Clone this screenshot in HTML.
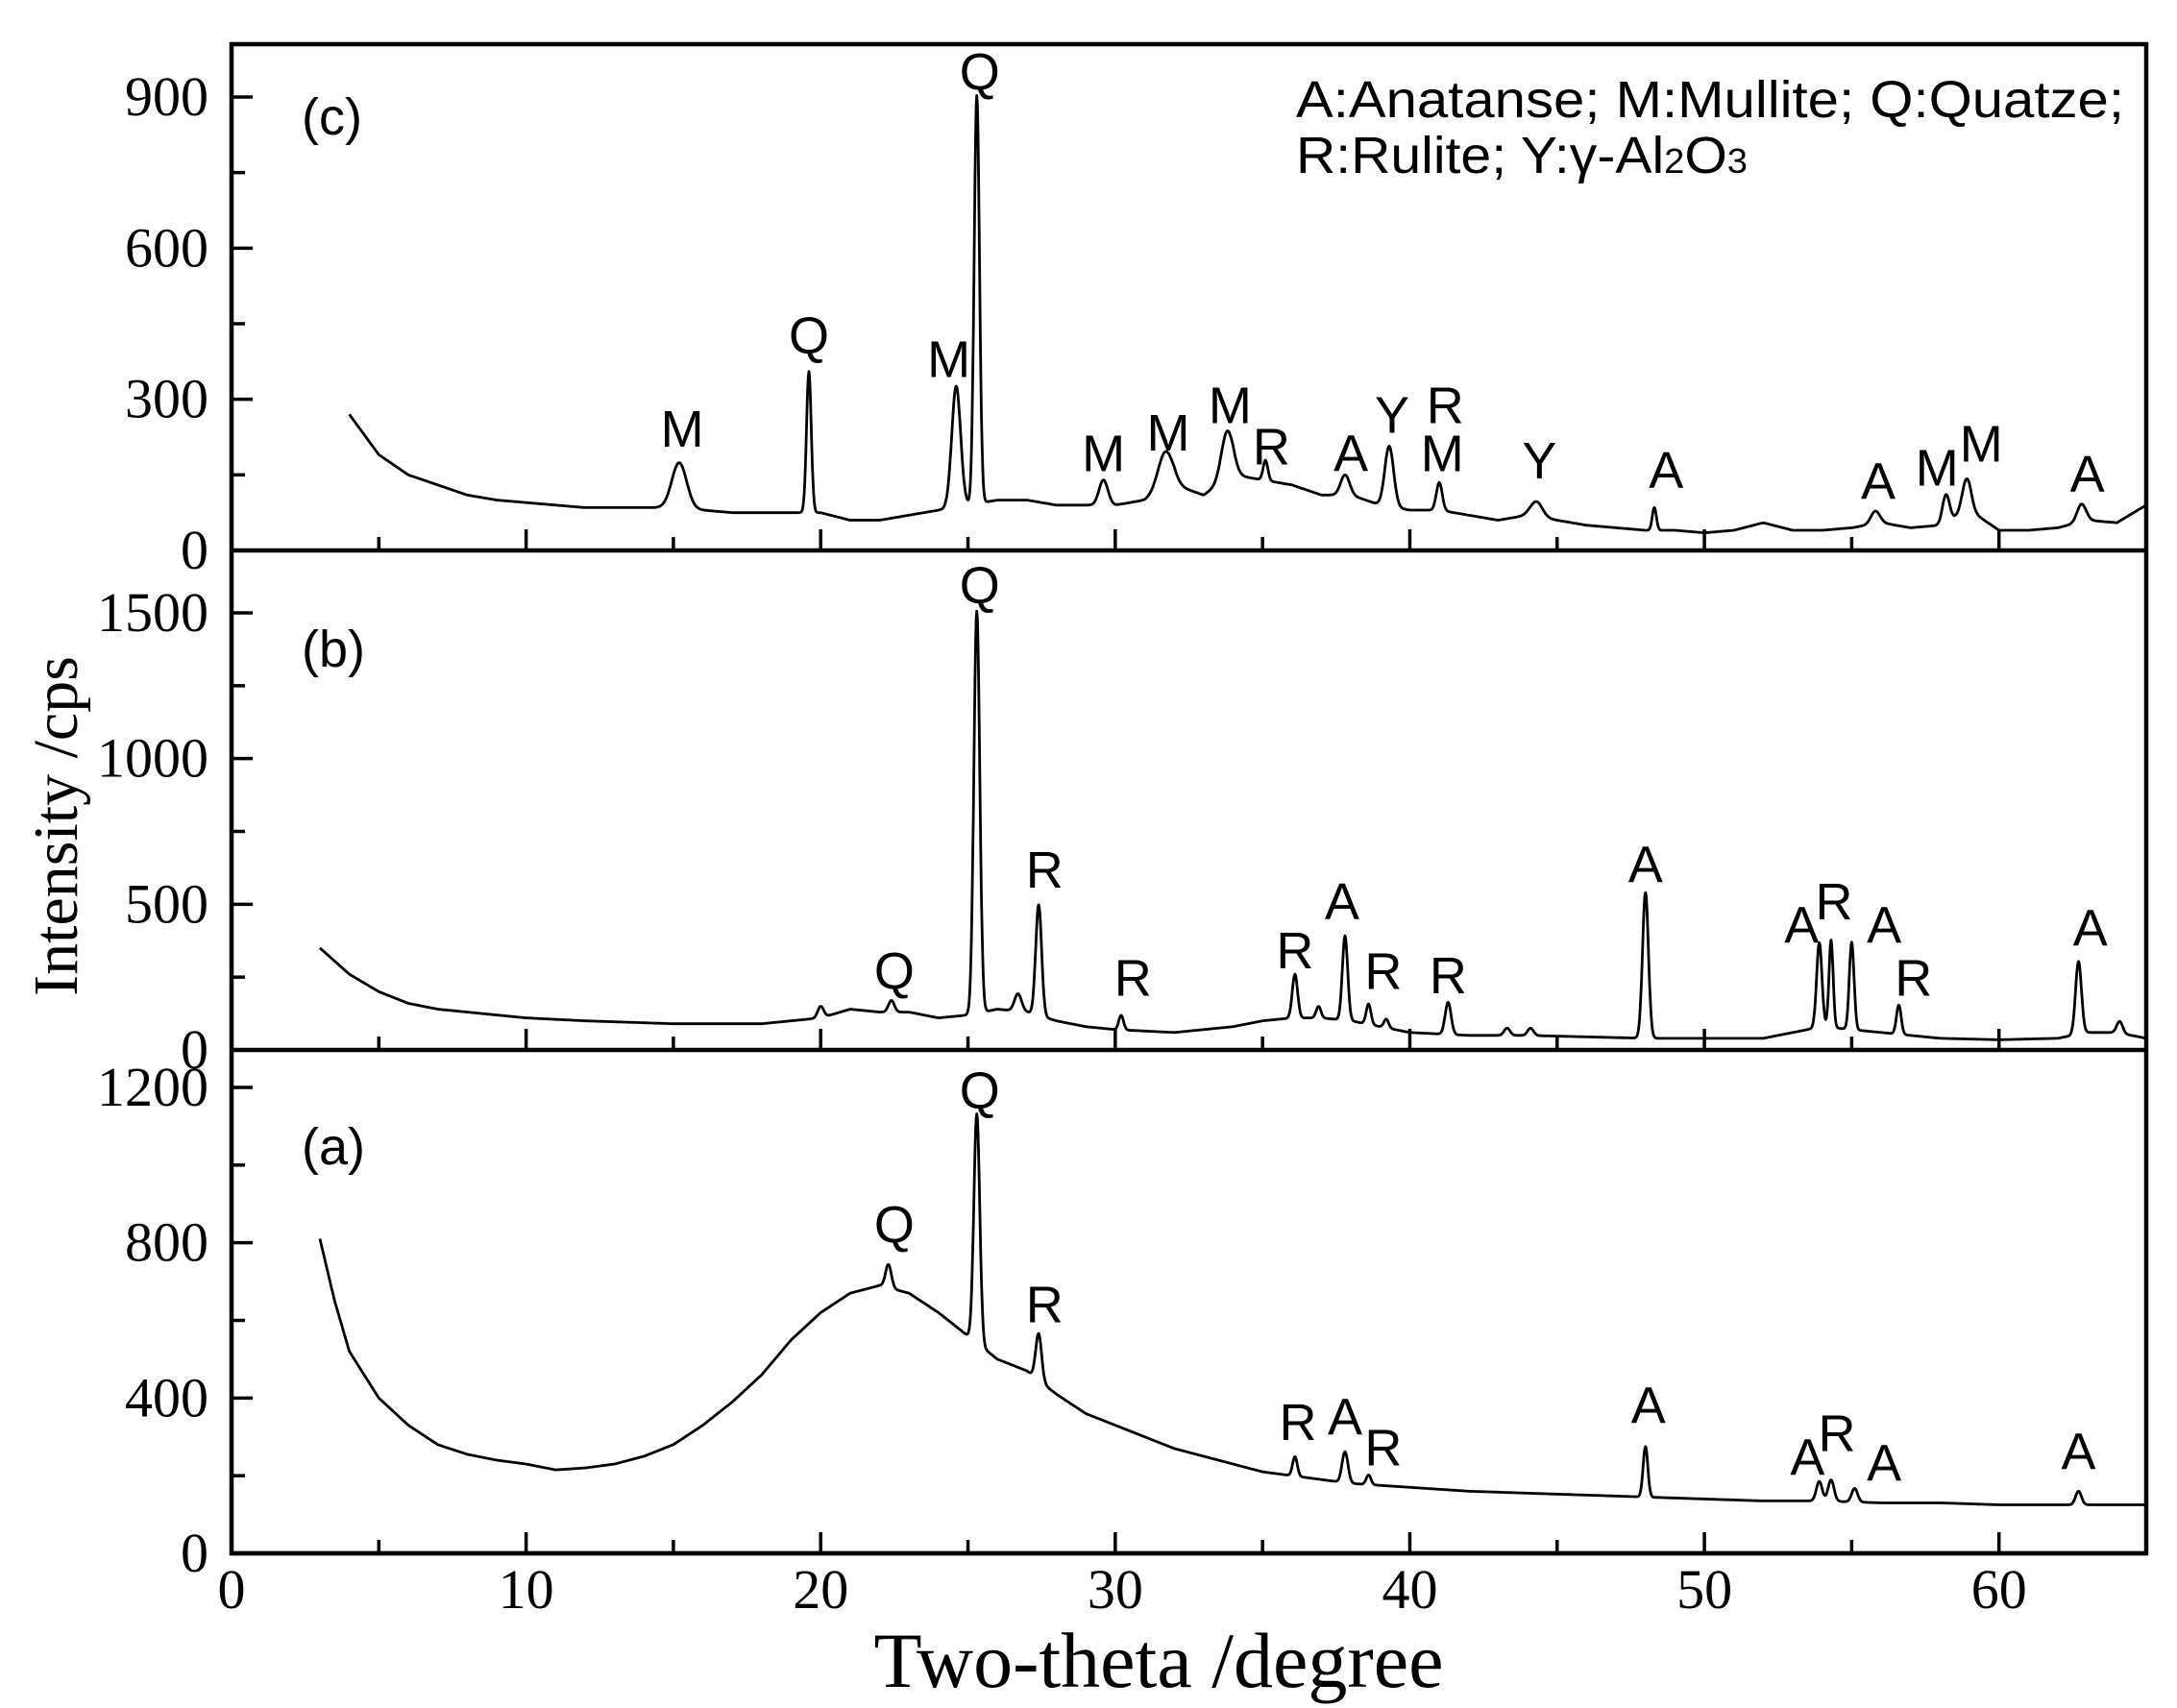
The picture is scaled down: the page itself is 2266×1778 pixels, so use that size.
<!DOCTYPE html>
<html><head><meta charset="utf-8"><style>
html,body{margin:0;padding:0;background:#fff}
svg{display:block}
text{fill:#000}
.tk{font-family:"Liberation Serif",serif;font-size:58px}
.pk{font-family:"Liberation Sans",sans-serif;font-size:54px}
</style></head><body>
<svg id="chart" width="2266" height="1778" viewBox="0 0 2266 1778" xmlns="http://www.w3.org/2000/svg"></svg>
<script>
// ---- data ----
const xTicks = [0,10,20,30,40,50,60];
const cTicks = [0,300,600,900];
const bTicks = [0,500,1000,1500];
const aTicks = [0,400,800,1200];
// baselines: [two-theta, intensity]
const cBaseX = [4,5,6,7,8,9,10,11,12,13,14,15,16,17,18,19,20,21,22,23,24,25,26,27,28,29,30,31,32,33,34,35,36,37,38,39,40,41,42,43,44,45,46,47,48,49,50,51,52,53,54,55,56,57,58,59,60,61,62,63,64,65];
const cBaseY = [270,190,150,130,110,100,95,90,85,85,85,85,80,75,75,75,75,60,60,70,80,90,100,100,90,90,90,100,130,110,150,140,130,110,110,90,80,80,70,60,70,60,50,45,40,40,35,40,55,40,40,45,55,45,50,80,40,40,45,60,55,90];
const cPeaks = [[15.2,90,0.25],[19.6,280,0.08],[24.6,240,0.15],[25.3,810,0.09],[29.6,50,0.15],[31.7,75,0.25],[33.8,95,0.2],[35.1,40,0.08],[37.8,40,0.15],[39.3,120,0.15],[41.0,55,0.1],[44.3,30,0.2],[48.3,45,0.07],[55.8,25,0.15],[58.2,55,0.12],[58.9,65,0.15],[62.8,35,0.15]];
const bBaseX = [3,4,5,6,7,8,10,12,15,18,20,21,22,23,24,25,26,27,28,29,30,32,34,35,36,37,38,40,42,44,46,48,50,52,53,54,55,56,58,60,62,63,64,65];
const bBaseY = [350,260,200,160,140,130,110,100,90,90,110,140,130,130,110,120,140,130,100,80,70,60,80,100,110,110,100,60,50,50,45,40,40,40,60,80,70,60,40,35,40,60,60,40];
const bPeaks = [[20,40,0.1],[22.4,40,0.1],[25.3,1380,0.1],[26.7,60,0.12],[27.4,380,0.1],[30.2,50,0.08],[36.1,150,0.09],[36.9,40,0.08],[37.8,290,0.09],[38.6,70,0.08],[39.2,30,0.08],[41.3,110,0.1],[43.3,25,0.1],[44.1,25,0.1],[48.0,500,0.1],[53.9,290,0.09],[54.3,300,0.07],[55.0,300,0.08],[56.6,100,0.08],[62.7,250,0.1],[64.1,40,0.1]];
const aBaseX = [3,3.5,4,5,6,7,8,9,10,11,12,13,14,15,16,17,18,19,20,21,22,23,24,25,26,27,28,29,30,31,32,33,34,35,36,37,38,40,42,44,46,48,50,52,54,56,58,60,62,64,65];
const aBaseY = [810,650,520,400,330,280,255,240,230,215,220,230,250,280,330,390,460,550,620,670,690,670,620,560,500,470,410,360,330,300,270,250,230,210,200,190,180,170,160,155,150,145,140,135,135,130,130,125,125,125,125];
const aPeaks = [[22.3,60,0.1],[25.3,590,0.1],[27.4,120,0.1],[36.1,50,0.08],[37.8,80,0.1],[38.6,25,0.08],[48.0,130,0.08],[53.9,50,0.1],[54.3,55,0.1],[55.1,35,0.1],[62.7,35,0.1]];
// phase labels: [letter, two-theta, intensity]
const cLabels = [["M",15.3,206],["Q",19.6,391],["M",24.35,344],["Q",25.4,914],["M",29.6,157],["M",31.8,198],["M",33.9,253],["R",35.3,171],["A",38.0,157],["Y",39.4,234],["R",41.2,253],["M",41.1,157],["Y",44.4,143],["A",48.7,124],["A",55.9,102],["M",57.9,129],["M",59.4,176],["A",63.0,116]];
const bLabels = [["Q",22.5,209],["Q",25.4,1533],["R",27.6,557],["R",30.6,186],["R",36.1,281],["A",37.7,448],["R",39.1,210],["R",41.3,195],["A",48.0,576],["A",53.3,367],["R",54.4,448],["A",56.1,367],["R",57.1,186],["A",63.1,357]];
const aLabels = [["Q",25.4,1146],["Q",22.5,800],["R",27.6,595],["R",36.2,292],["A",37.8,306],["R",39.1,227],["A",48.1,335],["A",53.5,202],["R",54.5,263],["A",56.1,187],["A",62.7,216]];

// ---- layout ----
const L=241,R=2234,T=46,B=1617;
const X=v=>L+v*(R-L)/65;
const panels=[
 {id:"c",zero:573,per:(573-101)/900,ticks:cTicks,minor:[150,450,750],bx:cBaseX,by:cBaseY,pk:cPeaks,lab:cLabels,name:"(c)",ny:140},
 {id:"b",zero:1093,per:(1093-638)/1500,ticks:bTicks,minor:[250,750,1250],bx:bBaseX,by:bBaseY,pk:bPeaks,lab:bLabels,name:"(b)",ny:694},
 {id:"a",zero:B,per:(B-1132)/1200,ticks:aTicks,minor:[200,600,1000],bx:aBaseX,by:aBaseY,pk:aPeaks,lab:aLabels,name:"(a)",ny:1212}
];
const svg=document.getElementById('chart');
const NS="http://www.w3.org/2000/svg";
function mk(t,a,p){const e=document.createElementNS(NS,t);for(const k in a)e.setAttribute(k,a[k]);(p||svg).appendChild(e);return e;}
function interp(xs,ys,x){if(x<=xs[0])return ys[0];for(let i=1;i<xs.length;i++){if(x<=xs[i]){const f=(x-xs[i-1])/(xs[i]-xs[i-1]);return ys[i-1]+f*(ys[i]-ys[i-1]);}}return ys[ys.length-1];}

panels.forEach(p=>{
  const Y=v=>p.zero-v*p.per;
  const g=mk('g',{});
  
  
  let d="";
  for(let x=p.bx[0];x<=65.0001;x+=0.02){
    let v=interp(p.bx,p.by,x);
    p.pk.forEach(k=>{v+=k[1]*Math.exp(-0.5*Math.pow((x-k[0])/k[2],2));});
    d+=(d?"L":"M")+X(x).toFixed(1)+" "+Y(v).toFixed(1);
  }
  const path=mk('path',{d:d,fill:"none",stroke:"#000","stroke-width":2.8,"stroke-linejoin":"round"},g);
  
  
  const zl=mk('line',{x1:L,x2:R,y1:p.zero,y2:p.zero,stroke:"#000","stroke-width":4.5},g);
  
  
  for(let v=5;v<65;v+=5){
    const len=(v%10===0)?22:14;
    mk('line',{x1:X(v),x2:X(v),y1:p.zero,y2:p.zero-len,stroke:"#000","stroke-width":3.5},g);
  }
  p.ticks.forEach(v=>{
    mk('line',{x1:L,x2:L+22,y1:Y(v),y2:Y(v),stroke:"#000","stroke-width":3.5},g);
    const t=mk('text',{x:L-24,y:Y(v)+19,"text-anchor":"end",class:"tk"},g);
    t.textContent=v;
    
    
  });
  p.minor.forEach(v=>{mk('line',{x1:L,x2:L+14,y1:Y(v),y2:Y(v),stroke:"#000","stroke-width":3.5},g);});
  p.lab.forEach(l=>{
    const t=mk('text',{x:X(l[1]),y:Y(l[2]),"text-anchor":"middle",class:"pk"},g);
    t.textContent=l[0];
    
    
  });
  const n=mk('text',{x:314,y:p.ny,class:"pk","font-size":"60"},g);
  n.textContent=p.name;
  
  
});
const fr=mk('rect',{x:L,y:T,width:R-L,height:B-T,fill:"none",stroke:"#000","stroke-width":4.5});


xTicks.forEach(v=>{
  const t=mk('text',{x:X(v),y:1674,"text-anchor":"middle",class:"tk"});
  t.textContent=v;
  
  
});
const xt=mk('text',{x:1206,y:1756,"text-anchor":"middle","font-family":"Liberation Serif, serif","font-size":"82"});
xt.textContent="Two-theta /degree";


const yt=mk('text',{x:0,y:0,"text-anchor":"middle","font-family":"Liberation Serif, serif","font-size":"66",transform:"translate(80,860) rotate(-90)"});
yt.textContent="Intensity /cps";


const lg=mk('g',{});


const l1=mk('text',{x:1349,y:122,class:"pk","font-size":"50",textLength:"862",lengthAdjust:"spacingAndGlyphs"},lg);
l1.textContent="A:Anatanse; M:Mullite; Q:Quatze;";


const l2=mk('text',{x:1349,y:180,class:"pk","font-size":"50",textLength:"470",lengthAdjust:"spacingAndGlyphs"},lg);
l2.innerHTML='R:Rulite; Y:γ-Al<tspan font-size="36">2</tspan>O<tspan font-size="36">3</tspan>';


</script>
</body></html>
